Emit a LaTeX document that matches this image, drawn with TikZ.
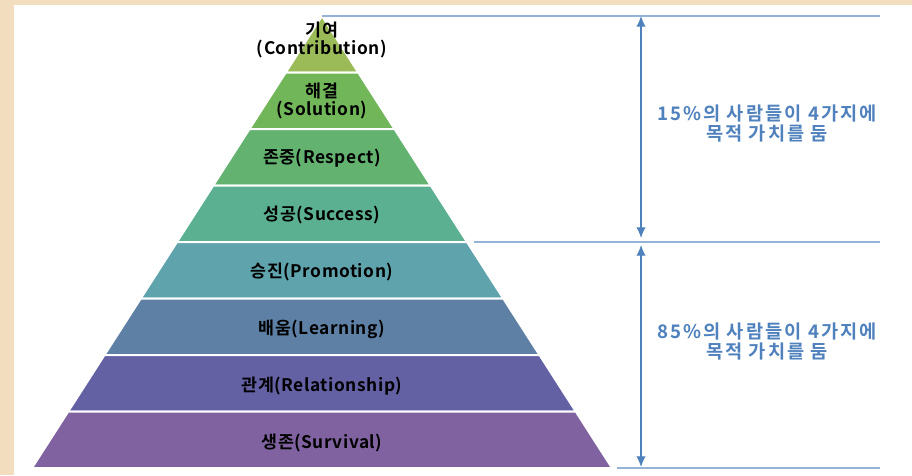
\documentclass[tikz,border=0pt]{standalone}
\usepackage{fontspec}
\setmainfont{Noto Sans CJK KR}[BoldFont={Noto Sans CJK KR Bold}]
\newfontfamily\lvlfont{Noto Sans CJK KR Bold}[LetterSpace=3]
\newfontfamily\notefont{Noto Sans CJK KR Bold}[LetterSpace=11]
\usetikzlibrary{arrows.meta, positioning, calc}
\definecolor{bgbeige}{RGB}{242, 222, 190}
\definecolor{lvlA}{RGB}{155, 187, 89}
\definecolor{lvlB}{RGB}{114, 182, 90}
\definecolor{lvlC}{RGB}{99, 178, 112}
\definecolor{lvlD}{RGB}{92, 176, 146}
\definecolor{lvlE}{RGB}{95, 163, 172}
\definecolor{lvlF}{RGB}{95, 128, 165}
\definecolor{lvlG}{RGB}{99, 96, 164}
\definecolor{lvlH}{RGB}{128, 98, 160}
\definecolor{myblue}{RGB}{79, 129, 189}
\definecolor{lightblue}{RGB}{149, 179, 215}

\begin{document}
\begin{tikzpicture}[
    x=0.75pt, y=-0.75pt,
    layer/.style={draw=white, line width=1.5pt, line join=round},
    lvl/.style={align=center, font=\lvlfont\fontsize{13}{14}\selectfont, text=black},
    note/.style={align=center, font=\notefont\fontsize{14}{15}\selectfont, text=myblue},
    guide/.style={draw=lightblue, line width=1.5pt},
    arrow/.style={draw=myblue, line width=0.9pt, {Latex[length=8pt,width=7pt]}-{Latex[length=8pt,width=7pt]}}
]
\useasboundingbox (0,0) rectangle (912,475);

% Background
\fill[bgbeige] (0,0) rectangle (912,475);
\fill[white] (14,5) rectangle (912,475);

% Layers
\fill[layer, fill=lvlA] (322,16) -- (358.25,72.5) -- (285.75,72.5) -- cycle;
\fill[layer, fill=lvlB] (285.75,72.5) -- (358.25,72.5) -- (394.5,129) -- (249.5,129) -- cycle;
\fill[layer, fill=lvlC] (249.5,129) -- (394.5,129) -- (430.75,185.5) -- (213.25,185.5) -- cycle;
\fill[layer, fill=lvlD] (213.25,185.5) -- (430.75,185.5) -- (467,242) -- (177,242) -- cycle;
\fill[layer, fill=lvlE] (177,242) -- (467,242) -- (503.25,298.5) -- (140.75,298.5) -- cycle;
\fill[layer, fill=lvlF] (140.75,298.5) -- (503.25,298.5) -- (539.5,355) -- (104.5,355) -- cycle;
\fill[layer, fill=lvlG] (104.5,355) -- (539.5,355) -- (575.75,411.5) -- (68.25,411.5) -- cycle;
\fill[layer, fill=lvlH] (68.25,411.5) -- (575.75,411.5) -- (612,468) -- (32,468) -- cycle;

% Level labels
\node[lvl] (contrib) at (322,40) {기여\\(Contribution)};
\node[lvl] (solution) at (322,101) {해결\\(Solution)};
\node[lvl] (respect) at (322,158) {존중(Respect)};
\node[lvl] (success) at (322,215) {성공(Success)};
\node[lvl] (promotion) at (322,272) {승진(Promotion)};
\node[lvl] (learning) at (322,329) {배움(Learning)};
\node[lvl] (relation) at (322,386) {관계(Relationship)};
\node[lvl] (survival) at (322,443) {생존(Survival)};

% Guide lines
\coordinate (apex) at (322,16);
\coordinate (top_end) at (880,16);
\coordinate (mid_start) at (474,242);
\coordinate (mid_end) at (880,242);
\coordinate (bot_start) at (617,468);
\coordinate (bot_end) at (880,468);
\draw[guide] (apex) -- (top_end);
\draw[guide] (mid_start) -- (mid_end);
\draw[guide] (bot_start) -- (bot_end);

% Arrows
\coordinate (upper_top) at (641,16);
\coordinate (upper_bot) at (641,238);
\coordinate (lower_top) at (641,245);
\coordinate (lower_bot) at (641,467);
\draw[arrow] (upper_top) -- (upper_bot);
\draw[arrow] (lower_top) -- (lower_bot);

% Notes
\node[note] (upper_note) at (767,123) {15\%의 사람들이 4가지에\\목적 가치를 둠};
\node[note] (lower_note) at (767,341) {85\%의 사람들이 4가지에\\목적 가치를 둠};

\end{tikzpicture}
\end{document}
